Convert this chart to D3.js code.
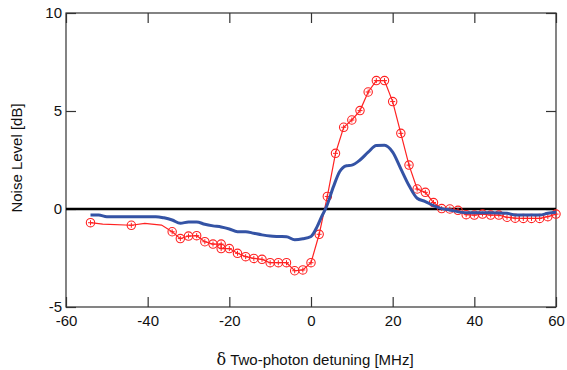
<!DOCTYPE html>
<html>
<head>
<meta charset="utf-8">
<script src="https://cdn.jsdelivr.net/npm/d3@7"></script>
<style>
  body { margin: 0; background: #fff; }
  text { font-family: "Liberation Sans", Arial, sans-serif; }
</style>
</head>
<body>
<div id="chart"></div>
<script>
// detuning [MHz] and noise level [dB]
var xTicks = [-60, -40, -20, 0, 20, 40, 60];
var yTicks = [-5, 0, 5, 10];

var blueX = [-54, -52, -50, -38, -36, -34, -32, -30, -28, -26, -24, -22, -20, -18, -16, -14, -12, -10, -8, -6, -4, -2, 0,
             1.5, 2.6, 3.8, 5.5, 7, 8.7, 10, 12, 14, 16, 18, 20, 22, 24, 26, 28, 30, 32, 34, 38, 44, 48, 50, 56, 58, 60];
var blueY = [-0.31, -0.31, -0.39, -0.39, -0.45, -0.56, -0.73, -0.66, -0.66, -0.78, -0.86, -0.92, -1.02, -1.16, -1.16, -1.24, -1.32, -1.38, -1.40, -1.41, -1.57, -1.52, -1.40,
             -0.9, -0.39, 0.12, 1.14, 1.9, 2.21, 2.24, 2.5, 2.9, 3.24, 3.25, 2.9, 2.05, 1.2, 0.55, 0.38, 0.17, 0.02, -0.05, -0.19, -0.19, -0.22, -0.31, -0.31, -0.22, -0.17];

// red line, including points drawn without a marker
var redLineX = [-54, -51, -44, -40.7, -39, -36.6, -34, -32, -30, -28, -26, -24, -22, -22, -20, -18, -16, -14, -12, -10, -8, -6, -4, -2, 0,
                2, 4, 6, 8, 10, 12, 14, 16, 18, 20, 22, 24, 26, 28, 30, 32, 34, 36, 38, 40, 42, 44, 46, 48, 50, 52, 54, 56, 58, 60];
var redLineY = [-0.7, -0.77, -0.83, -0.73, -0.77, -0.82, -1.16, -1.51, -1.38, -1.36, -1.67, -1.79, -1.79, -2.02, -2.02, -2.26, -2.43, -2.52, -2.57, -2.74, -2.74, -2.74, -3.15, -3.11, -2.74,
                -1.29, 0.64, 2.84, 4.17, 4.54, 5.02, 5.97, 6.55, 6.55, 5.48, 3.86, 2.24, 1.02, 0.85, 0.33, 0.02, 0, -0.07, -0.29, -0.31, -0.26, -0.31, -0.31, -0.42, -0.47, -0.48, -0.48, -0.48, -0.39, -0.26];
var redNoMarker = [1, 3, 4, 5];

var width = 567, height = 370;
var margin = {top: 13, right: 11, bottom: 63, left: 66};
var w = width - margin.left - margin.right;
var h = height - margin.top - margin.bottom;

var svg = d3.select("#chart").append("svg")
    .attr("width", width)
    .attr("height", height);

var g = svg.append("g")
    .attr("transform", "translate(" + margin.left + "," + margin.top + ")");

var x = d3.scaleLinear().domain([-60, 60]).range([0, w]);
var y = d3.scaleLinear().domain([-5, 10]).range([h, 0]);

var axisColor = "#333";
var plain = function(d) { return String(d); };

// box + inward ticks on all four sides
function styleAxis(sel) {
    sel.select(".domain").remove();
    sel.selectAll(".tick line").attr("stroke", axisColor).attr("stroke-width", 1.2);
    sel.selectAll("text").style("font-size", "15px").attr("fill", "#111");
}

g.append("g")
    .attr("transform", "translate(0," + h + ")")
    .call(d3.axisBottom(x).tickValues(xTicks).tickSize(-10).tickPadding(8).tickFormat(plain))
    .call(styleAxis);
g.append("g")
    .call(d3.axisTop(x).tickValues(xTicks).tickSize(-10).tickFormat(""))
    .call(styleAxis);
g.append("g")
    .call(d3.axisLeft(y).tickValues(yTicks).tickSize(-10).tickPadding(4).tickFormat(plain))
    .call(styleAxis);
g.append("g")
    .attr("transform", "translate(" + w + ",0)")
    .call(d3.axisRight(y).tickValues(yTicks).tickSize(-10).tickFormat(""))
    .call(styleAxis);

g.append("rect")
    .attr("width", w).attr("height", h)
    .attr("fill", "none")
    .attr("stroke", axisColor)
    .attr("stroke-width", 1.2);

// zero line
g.append("line")
    .attr("x1", 0).attr("x2", w)
    .attr("y1", y(0)).attr("y2", y(0))
    .attr("stroke", "#000")
    .attr("stroke-width", 2.5);

var line = d3.line()
    .x(function(d) { return x(d[0]); })
    .y(function(d) { return y(d[1]); });

var blue = blueX.map(function(v, i) { return [v, blueY[i]]; });
var red = redLineX.map(function(v, i) { return [v, redLineY[i]]; });

g.append("path")
    .datum(red)
    .attr("d", line)
    .attr("fill", "none")
    .attr("stroke", "#f22")
    .attr("stroke-width", 1.2);

var marks = red.filter(function(d, i) { return redNoMarker.indexOf(i) < 0; });
var mg = g.selectAll(".mk").data(marks).enter().append("g")
    .attr("class", "mk")
    .attr("transform", function(d) { return "translate(" + x(d[0]) + "," + y(d[1]) + ")"; });
mg.append("circle").attr("r", 4.2).attr("fill", "none").attr("stroke", "#f22").attr("stroke-width", 1.1);
mg.append("path").attr("d", "M-2.5,0H2.5M0,-2.5V2.5").attr("stroke", "#f22").attr("stroke-width", 1);

g.append("path")
    .datum(blue)
    .attr("d", line.curve(d3.curveMonotoneX))
    .attr("fill", "none")
    .attr("stroke", "#3453a5")
    .attr("stroke-width", 3);

// axis labels
var xl = svg.append("text")
    .attr("x", margin.left + w / 2 + 4)
    .attr("y", 365)
    .attr("text-anchor", "middle")
    .style("font-size", "15px")
    .attr("fill", "#111");
xl.append("tspan").style("font-family", "'DejaVu Serif', 'Liberation Serif', serif").style("font-size", "16px").text("δ");
xl.append("tspan").text(" Two-photon detuning [MHz]");

svg.append("text")
    .attr("transform", "translate(22," + (margin.top + 145) + ") rotate(-90)")
    .attr("text-anchor", "middle")
    .style("font-size", "15px")
    .attr("fill", "#111")
    .text("Noise Level [dB]");
</script>
</body>
</html>
